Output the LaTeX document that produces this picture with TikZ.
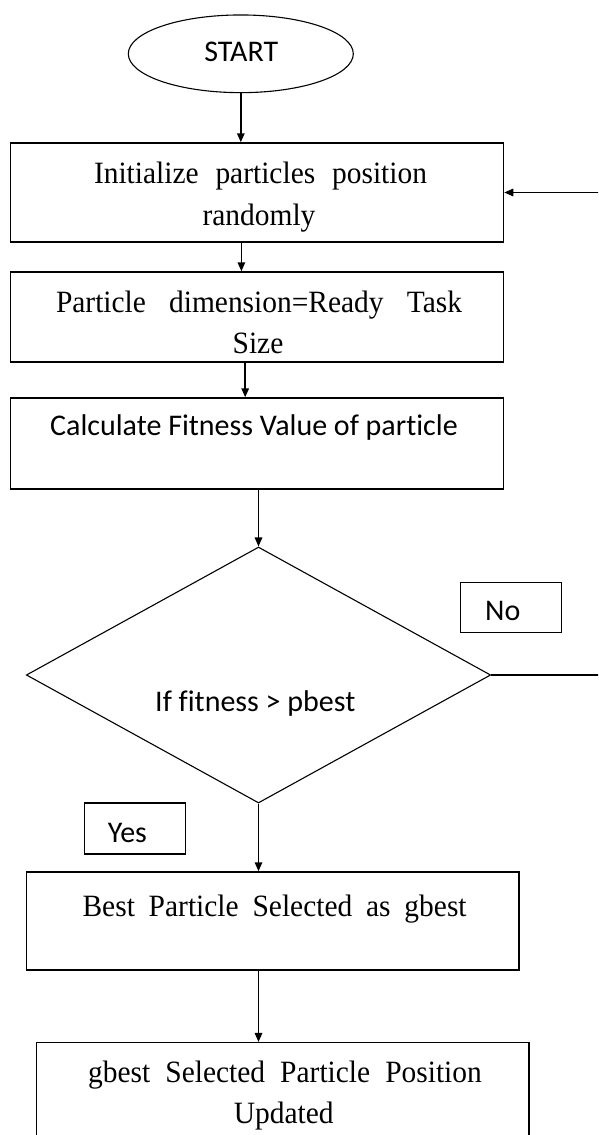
\documentclass[tikz,border=0pt]{standalone}
\usepackage{fontspec}
\setmainfont{Liberation Serif}
\newfontfamily\condserif[FakeStretch=0.95]{Liberation Serif}
\newfontfamily\calib[Ligatures=NoCommon]{Carlito}
\usetikzlibrary{shapes.geometric,arrows.meta}
\tikzset{
  boxnode/.style={draw, rectangle, line width=1.5pt, inner sep=0pt},
  tagnode/.style={draw, rectangle, line width=1.3pt, inner sep=0pt},
  serifline/.style={font=\condserif\fontsize{31}{35}\selectfont, inner sep=0pt, anchor=base},
  sansline/.style={font=\calib\fontsize{30}{34}\selectfont, inner sep=0pt, anchor=base},
  arr/.style={-{Triangle[width=7.5pt,length=9pt]}, line width=1.5pt}
}
\begin{document}
\begin{tikzpicture}[x=1pt,y=-1pt]
\useasboundingbox (0,0) rectangle (598,1135);
\clip (0,0) rectangle (598,1135);
\fill[white] (0,0) rectangle (598,1135);
% shapes
\node[draw, ellipse, line width=1.1pt, minimum width=225pt, minimum height=77.7pt, inner sep=0pt] (start) at (240.8,53.8) {};
\node[boxnode, minimum width=493pt, minimum height=99pt] (b1) at (257,192.5) {};
\node[boxnode, minimum width=493pt, minimum height=90pt] (b2) at (257,317) {};
\node[boxnode, minimum width=493pt, minimum height=91pt] (b3) at (257,443.5) {};
\node[draw, diamond, line width=1.1pt, minimum width=464.4pt, minimum height=256pt, inner sep=0pt] (d) at (258.5,675) {};
\node[tagnode, minimum width=100.6pt, minimum height=50pt] (nob) at (511,607.7) {};
\node[tagnode, minimum width=100.7pt, minimum height=51pt] (yesb) at (135,828.5) {};
\node[boxnode, minimum width=492.7pt, minimum height=98pt] (b4) at (272.6,921) {};
\node[boxnode, minimum width=492.4pt, minimum height=120pt] (b5) at (282.8,1102.7) {};
% texts
\node[sansline] (tstart) at (241.3,61.7) {START};
\node[serifline] (t1a) at (260.5,183) {\makebox[333pt][s]{Initialize particles position}};
\node[serifline] (t1b) at (259,225) {randomly};
\node[serifline] (t2a) at (259,312) {\makebox[406pt][s]{Particle dimension=Ready Task}};
\node[serifline] (t2b) at (258,353) {Size};
\node[sansline, anchor=base west] (t3) at (50,435.5) {Calculate Fitness Value of particle};
\node[sansline, anchor=base west] (tno) at (485,620) {No};
\node[sansline, anchor=base west] (td) at (155,711.7) {If fitness > pbest};
\node[sansline, anchor=base west] (tyes) at (107.6,842) {Yes};
\node[serifline] (t4) at (274.6,916) {\makebox[384pt][s]{Best Particle Selected as gbest}};
\node[serifline] (t5a) at (285,1082) {\makebox[393.6pt][s]{gbest Selected Particle Position}};
\node[serifline] (t5b) at (283.8,1123) {Updated};
% connectors
\coordinate (loopA) at (603,675);
\draw[arr] (start.south) -- (start.south |- b1.north);
\draw[arr] ([xshift=-15.6pt]b1.south) -- ([xshift=-15.6pt]b2.north);
\draw[arr] ([xshift=-11.8pt]b2.south) -- ([xshift=-11.8pt]b3.north);
\draw[arr] (b3.south -| d.north) -- (d.north);
\draw[arr] (d.south) -- (d.south |- b4.north);
\draw[arr] (b4.south -| d.south) -- (d.south |- b5.north);
\draw[arr] (d.east) -- (loopA) |- (b1.east);
\end{tikzpicture}
\end{document}
